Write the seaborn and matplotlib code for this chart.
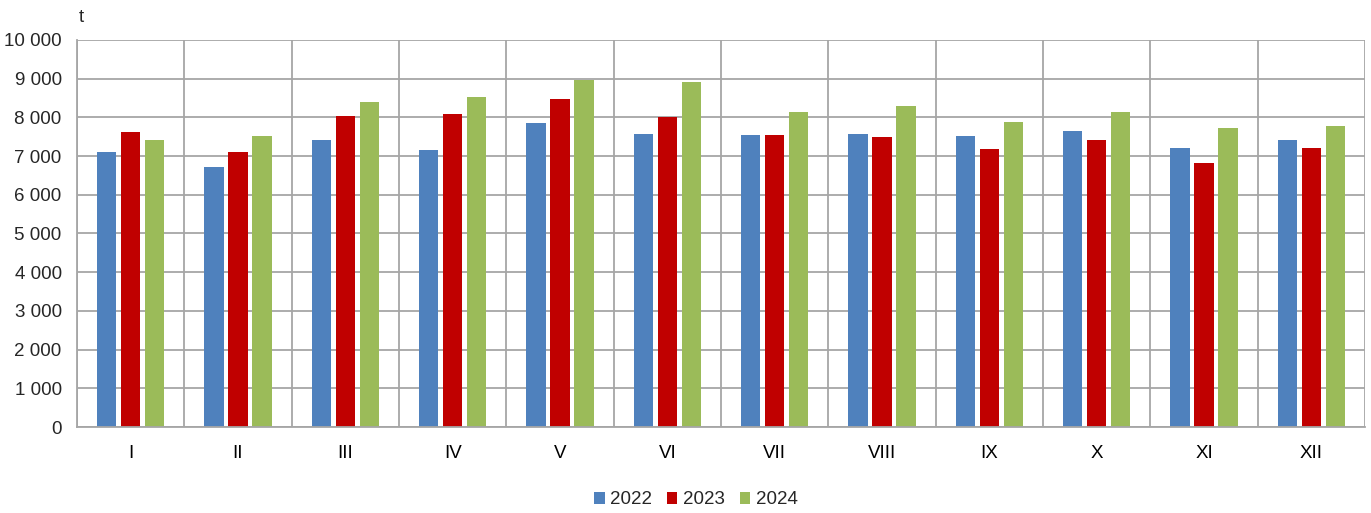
import matplotlib
matplotlib.use("Agg")
import matplotlib.pyplot as plt
import seaborn as sns
import pandas as pd
import numpy as np
from matplotlib.ticker import FuncFormatter, MultipleLocator, FixedLocator
from matplotlib import font_manager

months = ["I", "II", "III", "IV", "V", "VI", "VII", "VIII", "IX", "X", "XI", "XII"]
years = ["2022", "2023", "2024"]
v2022 = [7110, 6725, 7412, 7155, 7850, 7559, 7541, 7567, 7508, 7636, 7215, 7405]
v2023 = [7620, 7095, 8031, 8082, 8469, 8023, 7533, 7482, 7172, 7405, 6820, 7206]
v2024 = [7405, 7508, 8400, 8539, 8959, 8906, 8152, 8297, 7894, 8152, 7730, 7765]
colors = ["#4f81bd", "#c00000", "#9bbb59"]

df = pd.DataFrame({
    "month": months * 3,
    "year": [years[0]] * 12 + [years[1]] * 12 + [years[2]] * 12,
    "value": v2022 + v2023 + v2024,
})

sns.set_style("white")
names = {f.name for f in font_manager.fontManager.ttflist}
narrow = "Liberation Sans Narrow" in names
fam = ["Liberation Sans Narrow", "Liberation Sans", "DejaVu Sans"] if narrow else ["Liberation Sans", "DejaVu Sans"]
fs = 15 if narrow else 13.5
plt.rcParams["font.family"] = fam

fig = plt.figure(figsize=(13.71, 5.13), dpi=100)
ax = fig.add_axes([77 / 1371, 1 - 427 / 513, (1365 - 77) / 1371, (427 - 40) / 513])

sns.barplot(data=df, x="month", y="value", hue="year", order=months, hue_order=years,
            palette=colors, width=0.67, gap=0.2, ax=ax, legend=True, errorbar=None,
            saturation=1, linewidth=0)

grid_c = "#a6a6a6"
ax.set_ylim(0, 10000)
ax.set_xlim(-0.5, 11.5)
ax.yaxis.set_major_locator(MultipleLocator(1000))
ax.yaxis.set_major_formatter(FuncFormatter(lambda v, p: f"{int(v):,}".replace(",", " ")))
ax.grid(axis="y", color=grid_c, linewidth=1.3)
for b in np.arange(-0.5, 12.0, 1.0):
    ax.axvline(b, color=grid_c, linewidth=1.3, zorder=0)
ax.set_axisbelow(True)

ax.xaxis.set_major_locator(FixedLocator(list(range(12))))
ax.set_xticklabels(months)
ax.xaxis.set_minor_locator(FixedLocator(list(np.arange(-0.5, 12.0, 1.0))))
ax.tick_params(axis="x", which="major", length=0, pad=13, labelsize=fs, colors="#000000")
ax.tick_params(axis="x", which="minor", length=6, width=1.3, color=grid_c, direction="out")
ax.tick_params(axis="y", length=6, width=1.3, color=grid_c, direction="out", labelsize=fs, pad=5)

for s in ["top", "right"]:
    ax.spines[s].set_visible(False)
for s in ["left", "bottom"]:
    ax.spines[s].set_color(grid_c)
    ax.spines[s].set_linewidth(1.3)

ax.set_xlabel("")
ax.set_ylabel("")
fig.text(81 / 1371, 1 - 17 / 513, "t", fontsize=fs, ha="center", va="center")

handles, labels = ax.get_legend_handles_labels()
ax.get_legend().remove()
fig.legend(handles, labels, loc="center", bbox_to_anchor=(696 / 1371, 1 - 500 / 513),
           ncol=3, frameon=False, fontsize=fs, handlelength=0.55, handleheight=0.55,
           handletextpad=0.3, columnspacing=0.8, borderaxespad=0)

fig.savefig("out.png", dpi=100)
